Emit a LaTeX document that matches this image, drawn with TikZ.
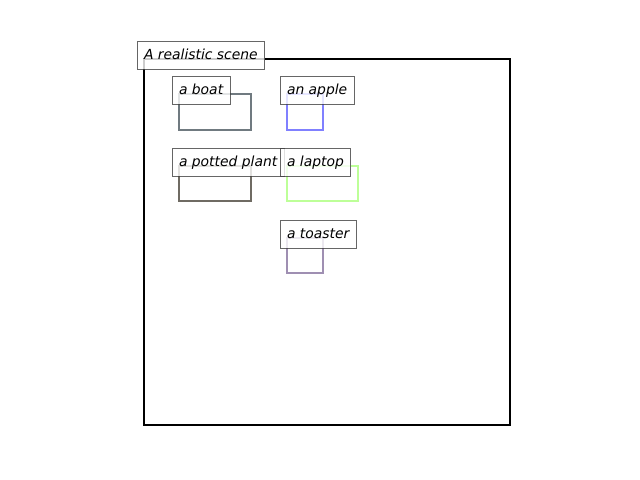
\documentclass[tikz,border=0pt]{standalone}
\usepackage{fontspec}
\setmainfont{DejaVu Sans}
\definecolor{boatcol}{HTML}{707A80}
\definecolor{applecol}{HTML}{8080FF}
\definecolor{plantcol}{HTML}{6F6B63}
\definecolor{laptopcol}{HTML}{BDFF98}
\definecolor{toastercol}{HTML}{9F8FB2}
\tikzset{
  lbl/.style={draw=black!75, draw opacity=0.8, fill=white, fill opacity=0.8, text opacity=1,
    line width=0.7pt, inner sep=5pt, text height=7.6pt, text depth=2.4pt,
    font=\itshape, anchor=text},
  obj/.style={line width=1.6pt, line join=miter}
}
\begin{document}
\begin{tikzpicture}[x=0.72pt, y=-0.72pt]
  \useasboundingbox (0,0) rectangle (640,480);
  % the scene
  \draw[line width=1.5pt] (144,59) rectangle (510,425);
  % objects
  \draw[obj, boatcol] (179,94) rectangle (251,130);
  \draw[obj, applecol] (287,94) rectangle (323,130);
  \draw[obj, plantcol] (179,166) rectangle (251,201);
  \draw[obj, laptopcol] (287,166) rectangle (358,201);
  \draw[obj, toastercol] (287,238) rectangle (323,273);
  % labels
  \node[lbl] (scene) at (144,59) {A realistic scene};
  \node[lbl] (boat) at (179,94) {a boat};
  \node[lbl] (apple) at (287,94) {an apple};
  \node[lbl] (plant) at (179,166) {a potted plant};
  \node[lbl] (laptop) at (287,166) {a laptop};
  \node[lbl] (toaster) at (287,238) {a toaster};
\end{tikzpicture}
\end{document}
